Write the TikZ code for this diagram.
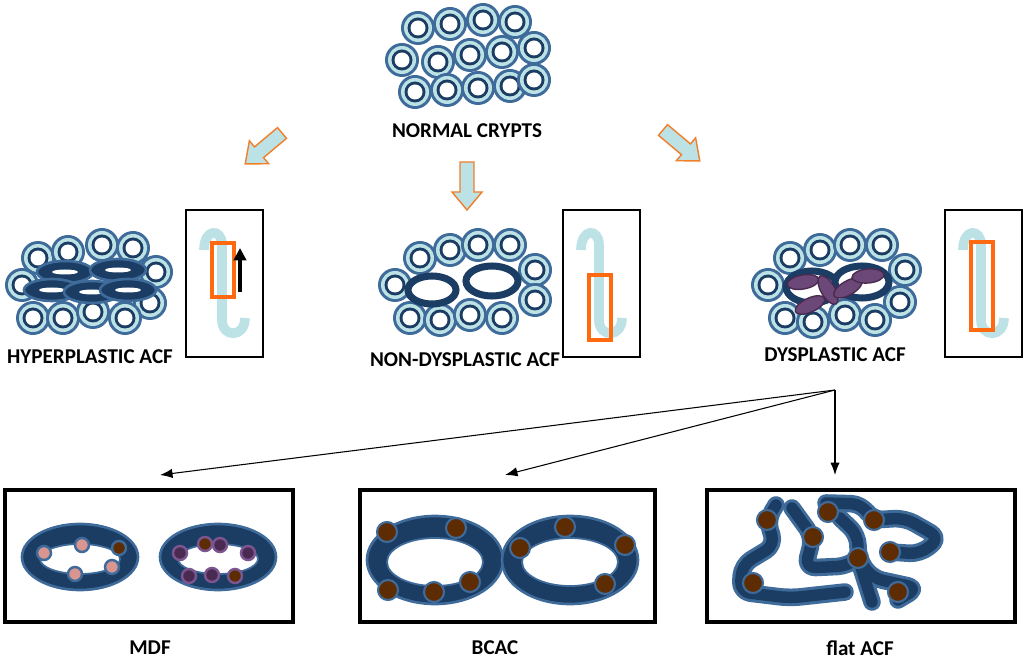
\documentclass[tikz,border=0pt]{standalone}
\usepackage{fontspec}
\setmainfont{Carlito}
\usetikzlibrary{arrows.meta}
\definecolor{cryptedge}{HTML}{3E6B9A}
\definecolor{cryptdark}{HTML}{1B3C63}
\definecolor{cryptlight}{HTML}{BDE2E6}
\definecolor{pinkcell}{HTML}{D9958F}
\definecolor{browncell}{HTML}{5E2C02}
\definecolor{purplecell}{HTML}{4A2A50}
\definecolor{purpleedge}{HTML}{7A5590}
\definecolor{gobletcell}{HTML}{6B4878}
\definecolor{arroworange}{HTML}{F07F2A}
\definecolor{boxorange}{HTML}{FF6A10}
\newcommand{\crypt}[1]{%
  \fill[cryptedge] #1 circle (17);
  \fill[cryptlight] #1 circle (14);
  \fill[cryptdark] #1 circle (10.5);
  \fill[white] #1 circle (7.5);}
\newcommand{\cell}[3]{\filldraw[#1, line width=1.4pt] (#2,#3) circle (7);}
\newcommand{\bigcell}[2]{\filldraw[fill=browncell, draw=cryptedge, line width=1.2pt] (#1,#2) circle (10);}
\newcommand{\flatgland}[2]{%
  \draw[flat, draw=#1, line width=#2] (776,505) -- (767,520) -- (775,545) -- (742,565) -- (740,592) -- (790,598) -- (845,592);
  \draw[flat, draw=#1, line width=#2] (792,508) -- (813,537) -- (805,568) -- (848,566) -- (858,558);
  \draw[flat, draw=#1, line width=#2] (826,503) -- (862,504) -- (872,520) -- (905,518) -- (940,538) -- (920,554) -- (890,552);
  \draw[flat, draw=#1, line width=#2] (840,518) -- (858,535) -- (858,558) -- (872,578) -- (918,588) -- (898,600);
  \draw[flat, draw=#1, line width=#2] (858,558) -- (872,602);}
\tikzset{
  lbl/.style={font=\bfseries\large},
  blk/.style={fill=cryptlight, draw=arroworange, line width=0.8pt},
  hook/.style={draw=cryptlight, line width=5.5pt},
  inset/.style={draw=black, line width=0.8pt},
  panel/.style={draw=black, line width=2pt},
  split/.style={-{Latex[length=2.5mm]}, line width=0.6pt},
  flat/.style={line cap=round, line join=round, rounded corners=6}
}
\begin{document}
\begin{tikzpicture}[x=0.02cm, y=-0.02cm]
\useasboundingbox (0,0) rectangle (1024,658);

% normal crypts
\foreach \p in {(418,28),(450,24),(483,20),(515,22),(402,60),(438,62),(470,55),(502,52),(534,48),(415,92),(447,90),(478,88),(510,86),(534,80)}
  {\crypt{\p}}
\node[lbl] (normal) at (467,131) {NORMAL CRYPTS};

% block arrows
\foreach \x/\y/\a in {282/133/-140, 467/162/-90, 663/130/-40}
  \draw[blk, shift={(\x,\y)}, rotate=\a] (0,-7) -- (30,-7) -- (30,-15) -- (48,0) -- (30,15) -- (30,7) -- (0,7) -- cycle;

% hyperplastic
\foreach \p in {(38,258),(68,252),(102,245),(133,248),(22,285),(156,272),(150,303),(33,318),(63,318),(93,312),(125,318)}
  {\crypt{\p}}
\foreach \x/\y in {65/272,118/270,52/290,92/292,128/290}
  {\filldraw[fill=cryptdark, draw=cryptedge, line width=1.5pt] (\x,\y) ellipse (28 and 11);
   \fill[white] (\x,\y) ellipse (13 and 2.5);}
\node[lbl] (hyper) at (90,357) {HYPERPLASTIC ACF};

% non-dysplastic
\foreach \p in {(420,258),(450,250),(478,245),(510,245),(395,285),(535,270),(535,300),(410,318),(440,320),(470,315),(502,318)}
  {\crypt{\p}}
\filldraw[fill=white, draw=cryptdark, line width=4pt] (432,290) ellipse (24 and 14);
\filldraw[fill=white, draw=cryptdark, line width=4pt] (492,281) ellipse (26 and 15);
\node[lbl] (nondys) at (465,360) {NON-DYSPLASTIC ACF};

% dysplastic
\foreach \p in {(790,258),(820,250),(850,245),(882,245),(768,285),(905,270),(900,302),(785,318),(813,322),(845,315),(875,320)}
  {\crypt{\p}}
\filldraw[fill=white, draw=cryptdark, line width=4pt] (812,287) ellipse (26 and 16);
\filldraw[fill=white, draw=cryptdark, line width=4pt] (862,282) ellipse (27 and 16);
\foreach \x/\y/\a in {803/282/10, 810/305/25, 828/290/-60, 848/288/30, 868/276/5}
  \filldraw[fill=gobletcell, draw=purplecell, line width=0.8pt, rotate around={\a:(\x,\y)}] (\x,\y) ellipse (16 and 7);
\node[lbl] (dys) at (835,355) {DYSPLASTIC ACF};

% insets
\foreach \bx/\ry/\rh in {186/243/54, 563/275/65, 945/242/88}
  {\draw[inset] (\bx,210) rectangle ++(77,147);
   \draw[hook] (\bx+18,250) .. controls (\bx+18,228) and (\bx+36,228) .. (\bx+36,245) -- (\bx+36,320) .. controls (\bx+36,338) and (\bx+59,338) .. (\bx+59,318);
   \draw[boxorange, line width=1.8pt] (\bx+26,\ry) rectangle ++(22,\rh);}
\draw[-{Triangle[length=2.5mm,width=2.5mm]}, line width=2pt] (240,292) -- (240,248);

% split arrows
\coordinate (fork) at (835,390);
\coordinate (mdfin) at (160,475);
\coordinate (bcacin) at (505,475);
\coordinate (flatin) at (835,475);
\foreach \t in {mdfin, bcacin, flatin}
  \draw[split] (fork) -- (\t);

% panels
\draw[panel] (5,490) rectangle (293,622);
\draw[panel] (360,490) rectangle (655,622);
\draw[panel] (707,490) rectangle (1015,622);

% MDF
\foreach \x in {80,218}
  {\filldraw[fill=cryptdark, draw=cryptedge, line width=1.5pt] (\x,557) ellipse (58 and 33);
   \filldraw[fill=white, draw=cryptedge, line width=1pt] (\x,559) ellipse (40 and 15);}
\foreach \x/\y in {44/553,82/545,112/567,75/574}
  {\cell{fill=pinkcell, draw=cryptedge}{\x}{\y}}
\cell{fill=browncell, draw=cryptedge}{119}{548}
\foreach \x/\y in {180/553,220/545,248/553,189/576,212/575}
  {\cell{fill=purplecell, draw=purpleedge}{\x}{\y}}
\cell{fill=browncell, draw=purpleedge}{205}{544}
\cell{fill=browncell, draw=purpleedge}{235}{576}
\node[lbl] (mdf) at (150,648) {MDF};

% BCAC
\foreach \x in {435,570}
  {\filldraw[fill=cryptdark, draw=cryptedge, line width=1.5pt] (\x,560) ellipse (68 and 44);
   \filldraw[fill=white, draw=cryptedge, line width=1pt] (\x,562) ellipse (48 and 24);}
\foreach \x/\y in {387/532,456/528,388/590,434/592,470/582,520/548,565/527,625/545,605/584}
  {\bigcell{\x}{\y}}
\node[lbl] (bcac) at (495,648) {BCAC};

% flat ACF
\flatgland{cryptedge}{10pt}
\flatgland{cryptdark}{6.5pt}
\foreach \x/\y in {767/520,828/512,874/520,813/537,890/552,858/558,753/583,898/592}
  {\bigcell{\x}{\y}}
\node[lbl] (flat) at (860,648) {flat ACF};
\end{tikzpicture}
\end{document}
